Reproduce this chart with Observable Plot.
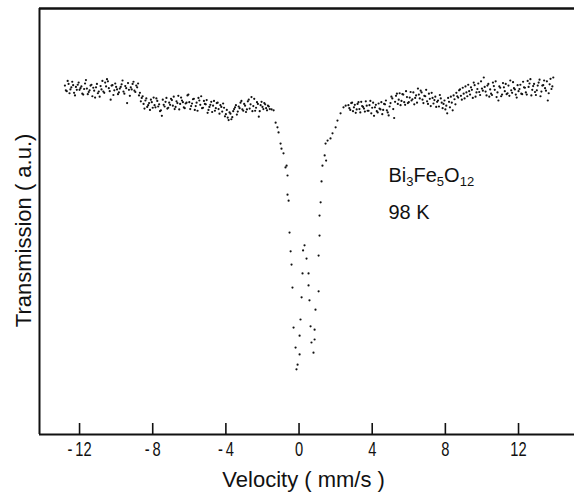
<!DOCTYPE html>
<html><head><meta charset="utf-8">
<script src="https://cdn.jsdelivr.net/npm/d3@7"></script>
<script src="https://cdn.jsdelivr.net/npm/@observablehq/plot@0.6"></script>
<style>
html,body{margin:0;padding:0;background:#fff;}
</style></head><body><div id="chart"></div>
<script>
// Mössbauer spectrum of Bi3Fe5O12 at 98 K: [velocity (mm/s), transmission (a.u.)]
const leftWing = [
[-12.8,81.9],[-12.7,80.6],[-12.6,82.3],[-12.5,81.0],[-12.4,82.8],[-12.3,80.2],[-12.2,81.6],[-12.1,82.1],[-12.0,80.9],[-11.9,81.7],
[-11.8,79.8],[-11.7,82.4],[-11.6,81.2],[-11.5,80.4],[-11.4,81.9],[-11.3,79.4],[-11.2,80.7],[-11.1,81.5],[-11.0,80.1],[-10.9,79.3],
[-10.8,81.0],[-10.7,80.5],[-10.6,82.6],[-10.5,83.4],[-10.4,81.3],[-10.3,78.6],[-10.2,82.0],[-10.1,80.8],[-10.0,81.6],[-9.9,79.9],
[-9.8,81.2],[-9.7,82.2],[-9.6,80.5],[-9.5,81.8],[-9.4,77.8],[-9.3,80.9],[-9.2,81.5],[-9.1,82.3],[-9.0,80.7],[-8.9,81.9],
[-8.8,82.4],[-8.7,80.2],[-8.6,79.0],[-8.5,77.6],[-8.4,78.4],[-8.3,76.9],[-8.2,77.8],[-8.1,78.6],[-8.0,76.7],[-7.9,77.3],
[-7.8,78.9],[-7.7,77.0],[-7.6,75.9],[-7.5,74.8],[-7.4,77.4],[-7.3,78.1],[-7.2,76.5],[-7.1,77.9],[-7.0,78.8],[-6.9,77.2],
[-6.8,76.4],[-6.7,78.2],[-6.6,79.5],[-6.5,77.6],[-6.4,78.4],[-6.3,76.8],[-6.2,77.7],[-6.1,79.6],[-6.0,78.0],[-5.9,77.1],
[-5.8,78.7],[-5.7,76.2],[-5.6,77.9],[-5.5,79.0],[-5.4,77.4],[-5.3,76.6],[-5.2,78.3],[-5.1,77.5],[-5.0,75.5],[-4.9,76.9],
[-4.8,78.1],[-4.7,77.2],[-4.6,76.0],[-4.5,77.8],[-4.4,76.4],[-4.3,77.3],[-4.2,75.8],[-4.1,76.7],[-4.0,75.2],[-3.9,74.4],
[-3.8,75.6],[-3.7,74.0],[-3.6,75.9],[-3.5,76.8],[-3.4,75.1],[-3.3,77.0],[-3.2,77.9],[-3.1,76.3],[-3.0,77.6],[-2.9,75.7],
[-2.8,78.2],[-2.7,76.5],[-2.6,79.2],[-2.5,77.1],[-2.4,76.0],[-2.3,78.0],[-2.2,74.6],[-2.1,77.3],[-2.0,76.9],[-1.9,77.8],
[-1.8,76.6],[-1.7,77.2],[-1.6,76.4]
];
const leftWingInterleaved = [
[-12.75,80.8],[-12.65,83.0],[-12.55,80.1],[-12.45,81.5],[-12.35,82.0],[-12.25,79.6],[-12.15,80.9],[-12.05,82.6],[-11.95,81.3],[-11.85,80.0],
[-11.75,81.1],[-11.65,83.2],[-11.55,79.9],[-11.45,80.8],[-11.35,82.1],[-11.25,81.4],[-11.15,79.1],[-11.05,82.3],[-10.95,80.5],[-10.85,81.8],
[-10.75,83.0],[-10.65,80.2],[-10.55,81.7],[-10.45,82.9],[-10.35,80.6],[-10.25,81.9],[-10.15,79.7],[-10.05,82.4],[-9.95,81.0],[-9.85,80.3],
[-9.75,81.6],[-9.65,83.1],[-9.55,80.0],[-9.45,81.3],[-9.35,82.5],[-9.25,79.5],[-9.15,81.0],[-9.05,82.8],[-8.95,80.4],[-8.85,81.5],
[-8.75,79.6],[-8.65,78.2],[-8.55,79.4],[-8.45,76.5],[-8.35,78.9],[-8.25,77.3],[-8.15,76.2],[-8.05,78.0],[-7.95,79.1],[-7.85,76.8],
[-7.75,78.3],[-7.65,77.5],[-7.55,76.1],[-7.45,78.6],[-7.35,77.0],[-7.25,79.0],[-7.15,76.7],[-7.05,77.4],[-6.95,78.5],[-6.85,79.3],
[-6.75,76.9],[-6.65,77.8],[-6.55,76.3],[-6.45,79.1],[-6.35,78.0],[-6.25,76.6],[-6.15,77.9],[-6.05,79.8],[-5.95,76.4],[-5.85,77.7],
[-5.75,78.8],[-5.65,77.1],[-5.55,76.0],[-5.45,78.4],[-5.35,79.4],[-5.25,76.7],[-5.15,77.6],[-5.05,78.5],[-4.95,76.2],[-4.85,77.4],
[-4.75,75.7],[-4.65,78.3],[-4.55,76.6],[-4.45,77.9],[-4.35,75.3],[-4.25,76.9],[-4.15,77.7],[-4.05,74.7],[-3.95,76.2],[-3.85,73.8],
[-3.75,75.3],[-3.65,74.5],[-3.55,76.4],[-3.45,77.3],[-3.35,75.8],[-3.25,76.6],[-3.15,78.3],[-3.05,76.0],[-2.95,77.2],[-2.85,76.3],
[-2.75,78.6],[-2.65,77.5],[-2.55,75.9],[-2.45,78.8],[-2.35,76.7],[-2.25,77.6],[-2.15,75.9],[-2.05,78.1],[-1.95,76.4],[-1.85,77.5],
[-1.75,76.1],[-1.65,77.0]
];
const absorptionDip = [
[-1.50,76.3],[-1.39,76.1],[-1.28,73.2],[-1.18,72.1],[-1.12,70.9],[-1.01,68.3],[-0.96,67.1],[-0.85,66.0],[-0.74,62.7],[-0.68,63.1],
[-0.63,60.8],[-0.63,56.3],[-0.57,54.9],[-0.52,47.4],[-0.46,43.0],[-0.41,39.9],[-0.36,34.5],[-0.30,25.1],[-0.19,20.4],[-0.14,15.3],
[-0.08,16.4],[0.03,23.2],[0.03,18.8],[0.08,27.0],[0.14,32.2],[0.19,37.8],[0.22,43.2],[0.30,44.4],[0.41,41.3],[0.52,37.8],
[0.52,35.0],[0.57,31.5],[0.63,25.4],[0.68,21.6],[0.79,19.2],[0.85,24.6],[0.85,22.3],[0.90,29.3],[1.07,33.6],[1.07,42.0],
[1.12,46.7],[1.12,51.4],[1.18,54.5],[1.23,59.4],[1.28,63.1],[1.40,65.5],[1.48,64.3],[1.45,68.3],[1.56,69.0],[1.72,69.5],
[1.83,70.7],[2.00,72.1],[2.10,73.7],[2.27,75.4],[2.43,76.8],[2.55,77.2]
];
const rightWing = [
[2.7,77.3],[2.8,76.2],[2.9,77.9],[3.0,76.8],[3.1,75.5],[3.2,77.6],[3.3,76.4],[3.4,78.1],[3.5,76.9],[3.6,75.8],
[3.7,77.2],[3.8,76.0],[3.9,78.3],[4.0,76.7],[4.1,74.8],[4.2,77.4],[4.3,75.6],[4.4,76.5],[4.5,78.0],[4.6,76.2],
[4.7,77.5],[4.8,76.1],[4.9,74.9],[5.0,77.8],[5.1,78.9],[5.2,74.3],[5.3,79.5],[5.4,77.6],[5.5,80.1],[5.6,78.3],
[5.7,79.8],[5.8,77.4],[5.9,79.2],[6.0,78.0],[6.1,80.4],[6.2,78.7],[6.3,77.5],[6.4,79.6],[6.5,81.2],[6.6,78.9],
[6.7,80.3],[6.8,77.8],[6.9,79.4],[7.0,78.2],[7.1,80.0],[7.2,77.1],[7.3,79.0],[7.4,78.5],[7.5,76.9],[7.6,78.4],
[7.7,79.7],[7.8,77.9],[7.9,77.6],[8.0,76.3],[8.1,75.4],[8.2,78.1],[8.3,79.3],[8.4,76.1],[8.5,78.7],[8.6,80.2],
[8.7,79.1],[8.8,81.0],[8.9,78.6],[9.0,80.0],[9.1,81.7],[9.2,79.4],[9.3,80.6],[9.4,81.5],[9.5,79.0],[9.6,82.0],
[9.7,80.3],[9.8,82.4],[9.9,79.7],[10.0,81.2],[10.1,83.8],[10.2,80.5],[10.3,81.9],[10.4,79.3],[10.5,80.0],[10.6,82.6],
[10.7,80.9],[10.8,79.2],[10.9,78.4],[11.0,81.4],[11.1,79.8],[11.2,81.5],[11.3,82.3],[11.4,80.1],[11.5,79.5],[11.6,80.8],
[11.7,82.7],[11.8,81.0],[11.9,79.1],[12.0,80.6],[12.1,82.1],[12.2,79.9],[12.3,81.5],[12.4,80.3],[12.5,83.0],[12.6,82.4],
[12.7,79.6],[12.8,81.8],[12.9,80.4],[13.0,80.8],[13.1,82.6],[13.2,79.4],[13.3,81.9],[13.4,83.1],[13.5,80.7],[13.6,78.4],
[13.7,82.2],[13.8,81.1],[13.9,83.8]
];
const rightWingInterleaved = [
[2.75,76.6],[2.85,77.8],[2.95,75.9],[3.05,77.4],[3.15,76.3],[3.25,78.0],[3.35,75.6],[3.45,77.1],[3.55,76.5],[3.65,78.2],
[3.75,76.0],[3.85,77.3],[3.95,75.4],[4.05,77.9],[4.15,76.8],[4.25,75.9],[4.35,77.7],[4.45,76.3],[4.55,75.2],[4.65,77.6],
[4.75,78.4],[4.85,75.6],[4.95,77.0],[5.05,79.3],[5.15,76.4],[5.25,78.1],[5.35,80.0],[5.45,78.6],[5.55,77.3],[5.65,79.9],
[5.75,78.0],[5.85,80.6],[5.95,77.8],[6.05,79.1],[6.15,78.4],[6.25,80.3],[6.35,79.0],[6.45,77.9],[6.55,79.8],[6.65,80.7],
[6.75,78.6],[6.85,79.5],[6.95,80.9],[7.05,77.6],[7.15,78.8],[7.25,80.2],[7.35,77.7],[7.45,79.3],[7.55,78.1],[7.65,77.0],
[7.75,78.9],[7.85,76.6],[7.95,78.4],[8.05,77.2],[8.15,79.0],[8.25,76.8],[8.35,77.9],[8.45,79.6],[8.55,77.5],[8.65,79.4],
[8.75,80.8],[8.85,79.5],[8.95,81.4],[9.05,78.9],[9.15,80.3],[9.25,82.1],[9.35,79.8],[9.45,80.9],[9.55,82.6],[9.65,79.3],
[9.75,81.1],[9.85,80.4],[9.95,82.9],[10.05,80.7],[10.15,81.6],[10.25,79.6],[10.35,82.3],[10.45,81.0],[10.55,79.7],[10.65,81.8],
[10.75,82.9],[10.85,80.3],[10.95,81.7],[11.05,79.4],[11.15,82.5],[11.25,80.6],[11.35,79.9],[11.45,81.9],[11.55,83.1],[11.65,80.2],
[11.75,81.3],[11.85,79.8],[11.95,82.0],[12.05,81.1],[12.15,80.0],[12.25,82.8],[12.35,81.4],[12.45,79.8],[12.55,81.6],[12.65,83.4],
[12.75,80.9],[12.85,82.3],[12.95,79.7],[13.05,81.9],[13.15,83.3],[13.25,80.5],[13.35,82.0],[13.45,81.3],[13.55,82.9],[13.65,80.1],
[13.75,83.5],[13.85,81.7]
];
const velocityTicks = [-12, -8, -4, 0, 4, 8, 12];
const xDomain = [-14.19, 15.06];
const yDomain = [0, 100];
const xLabel = "Velocity ( mm/s )";
const yLabel = "Transmission ( a.u.)";
const formulaParts = [["Bi", "3"], ["Fe", "5"], ["O", "12"]];
const sampleLabel = formulaParts.flat().join("");
const tempLabel = "98 K";

const points = [...leftWing, ...leftWingInterleaved, ...absorptionDip, ...rightWing, ...rightWingInterleaved]
  .map(([v, t]) => ({v, t}));
const ink = "#111";
const labelFont = "'Liberation Sans', Arial, sans-serif";
const tickFormat = d => d < 0 ? "-\u2009" + Math.abs(d) : String(d);
const tickStrings = new Set(velocityTicks.map(tickFormat));

const chart = Plot.plot({
  width: 574,
  height: 493,
  marginLeft: 39,
  marginRight: 0,
  marginTop: 8,
  marginBottom: 59,
  x: {domain: xDomain},
  y: {domain: yDomain, axis: null},
  style: {background: "#fff", color: ink},
  marks: [
    Plot.ruleX([xDomain[0]], {stroke: ink, strokeWidth: 2}),
    Plot.ruleY([yDomain[1]], {stroke: ink, strokeWidth: 2.5}),
    Plot.ruleY([yDomain[0]], {stroke: ink, strokeWidth: 2}),
    Plot.axisX(velocityTicks, {tickSize: -11, tickFormat: () => "", stroke: ink, strokeWidth: 1.6, label: null}),
    Plot.axisX(velocityTicks, {tickSize: 0, tickPadding: 7, fontSize: 21, fontFamily: labelFont, fill: ink, label: null, tickFormat}),
    Plot.text([xLabel], {x: 0.25, frameAnchor: "bottom", dy: 52, fontSize: 22, fontFamily: labelFont, fill: ink}),
    Plot.text([yLabel], {y: 47.9, frameAnchor: "left", dx: -16, rotate: -90, textAnchor: "middle", fontSize: 22, fontFamily: labelFont, fill: ink}),
    Plot.dot(points, {x: "v", y: "t", r: 1.1, fill: ink, stroke: null}),
    Plot.text([sampleLabel], {x: 4.89, y: 60.8, textAnchor: "start", fontSize: 20, fontFamily: labelFont, fill: ink}),
    Plot.text([tempLabel], {x: 4.89, y: 52.0, textAnchor: "start", fontSize: 20, fontFamily: labelFont, fill: ink})
  ]
});

// condense the tick-label glyphs like the narrow lettering of the original
chart.querySelectorAll("text").forEach(t => {
  if (!tickStrings.has(t.textContent)) return;
  const tr = t.getAttribute("transform") || "";
  const m = /translate\(\s*([-\d.]+)[ ,]+([-\d.]+)\s*\)/.exec(tr);
  if (m) {
    t.setAttribute("transform", tr + " scale(0.7,1)");
  } else {
    const x = +t.getAttribute("x") || 0;
    t.setAttribute("transform", `${tr} translate(${x},0) scale(0.7,1) translate(${-x},0)`);
  }
});
// chemical formula subscripts
const ns = "http://www.w3.org/2000/svg";
chart.querySelectorAll("text").forEach(t => {
  if (t.textContent === sampleLabel) {
    t.textContent = "";
    formulaParts.forEach(([el, n], i) => {
      const a = document.createElementNS(ns, "tspan");
      a.textContent = el;
      if (i > 0) a.setAttribute("dy", "-4");
      t.appendChild(a);
      const b = document.createElementNS(ns, "tspan");
      b.textContent = n;
      b.setAttribute("font-size", "13");
      b.setAttribute("dy", "4");
      t.appendChild(b);
    });
  }
});
document.getElementById("chart").appendChild(chart);
</script>
</body></html>
